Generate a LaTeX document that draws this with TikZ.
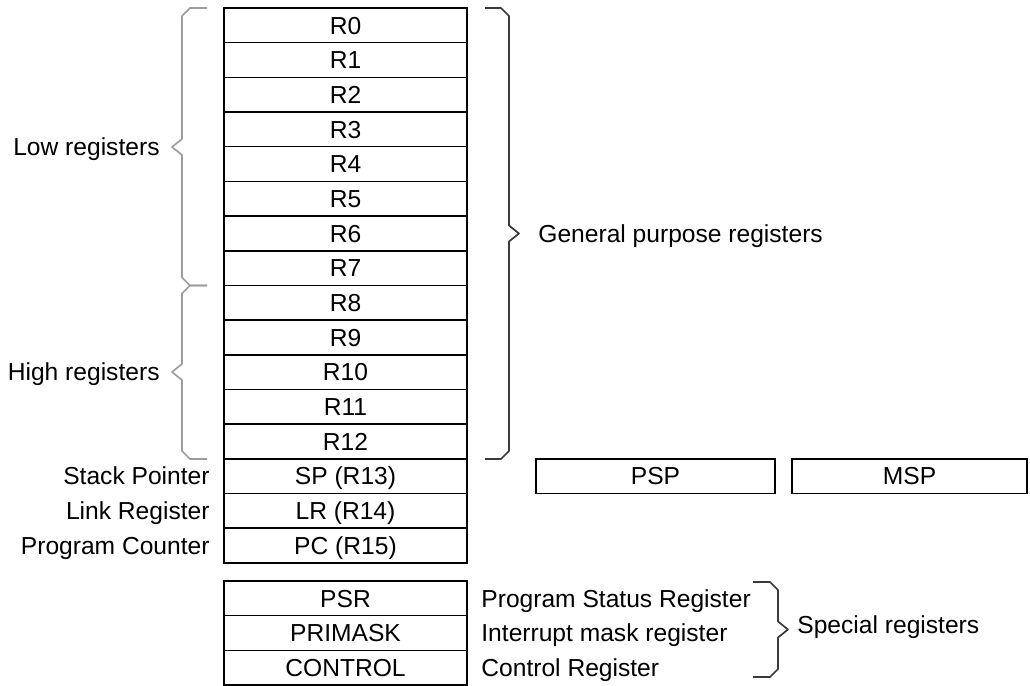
\documentclass[tikz,border=0pt]{standalone}
\usepackage{fontspec}
\setmainfont{Liberation Sans}
\usetikzlibrary{positioning}
\definecolor{BraceGrey}{HTML}{9C9C9C}
\definecolor{BraceDark}{HTML}{3A3A3A}

\begin{document}
\begin{tikzpicture}[x=0.5pt,y=-0.5pt,
    reg/.style={draw,line width=0.75pt,outer sep=0pt,inner sep=0pt,minimum width=121.5pt,minimum height=17.34pt,text height=8.8pt,text depth=0pt,font=\fontsize{12.3}{14}\selectfont},
    lbl/.style={inner sep=0pt,text height=8.8pt,text depth=0pt,font=\fontsize{12.3}{14}\selectfont},
    brc/.style={line width=0.85pt,line join=round}
  ]
    \useasboundingbox (0,0) rectangle (1030,686);
    % core registers
    \node[reg] (r0) at (345.5,25.35) {R0};
    \node[reg,below=0pt of r0] (r1) {R1};
    \node[reg,below=0pt of r1] (r2) {R2};
    \node[reg,below=0pt of r2] (r3) {R3};
    \node[reg,below=0pt of r3] (r4) {R4};
    \node[reg,below=0pt of r4] (r5) {R5};
    \node[reg,below=0pt of r5] (r6) {R6};
    \node[reg,below=0pt of r6] (r7) {R7};
    \node[reg,below=0pt of r7] (r8) {R8};
    \node[reg,below=0pt of r8] (r9) {R9};
    \node[reg,below=0pt of r9] (r10) {R10};
    \node[reg,below=0pt of r10] (r11) {R11};
    \node[reg,below=0pt of r11] (r12) {R12};
    \node[reg,below=0pt of r12] (sp) {SP (R13)};
    \node[reg,below=0pt of sp] (lr) {LR (R14)};
    \node[reg,below=0pt of lr] (pc) {PC (R15)};
    % banked stack pointers
    \node[reg,minimum width=119.5pt,right=34.5pt of sp] (psp) {PSP};
    \node[reg,minimum width=117.5pt,right=8.5pt of psp] (msp) {MSP};
    % special registers
    \node[reg,below=9pt of pc] (psr) {PSR};
    \node[reg,below=0pt of psr] (primask) {PRIMASK};
    \node[reg,below=0pt of primask] (control) {CONTROL};
    \node[lbl,left=7pt of sp] (splbl) {Stack Pointer};
    \node[lbl,left=7pt of lr] (lrlbl) {Link Register};
    \node[lbl,left=7pt of pc] (pclbl) {Program Counter};
    \node[lbl,right=7pt of psr] (psrlbl) {Program Status Register};
    \node[lbl,right=7pt of primask] (primasklbl) {Interrupt mask register};
    \node[lbl,right=7pt of control] (controllbl) {Control Register};
    % braces
    \draw[brc,BraceGrey] (207,8) -- (190,8) -- (182,16) -- (182,139) -- (172,147) -- (182,155) -- (182,277.5) -- (190,285.5) -- (207,285.5);
    \draw[brc,BraceGrey] (207,285.5) -- (190,285.5) -- (182,293.5) -- (182,364) -- (172,372) -- (182,380) -- (182,451) -- (190,459) -- (207,459);
    \draw[brc,BraceDark] (485,8) -- (501,8) -- (509,16) -- (509,225.5) -- (519,233.5) -- (509,241.5) -- (509,451) -- (501,459) -- (485,459);
    \draw[brc,BraceDark] (753,582) -- (770,582) -- (778,590) -- (778,621.5) -- (788,629.5) -- (778,637.5) -- (778,669) -- (770,677) -- (753,677);
    \coordinate (lowtip) at (172,147);
    \coordinate (hightip) at (172,372);
    \coordinate (gptip) at (519,233.5);
    \node[lbl,left=6pt of lowtip] (lowlbl) {Low registers};
    \node[lbl,left=6pt of hightip] (highlbl) {High registers};
    \node[lbl,right=9.5pt of gptip] (gplbl) {General purpose registers};
    \node[lbl,anchor=west] (speclbl) at (797,625) {Special registers};
\end{tikzpicture}
\end{document}
